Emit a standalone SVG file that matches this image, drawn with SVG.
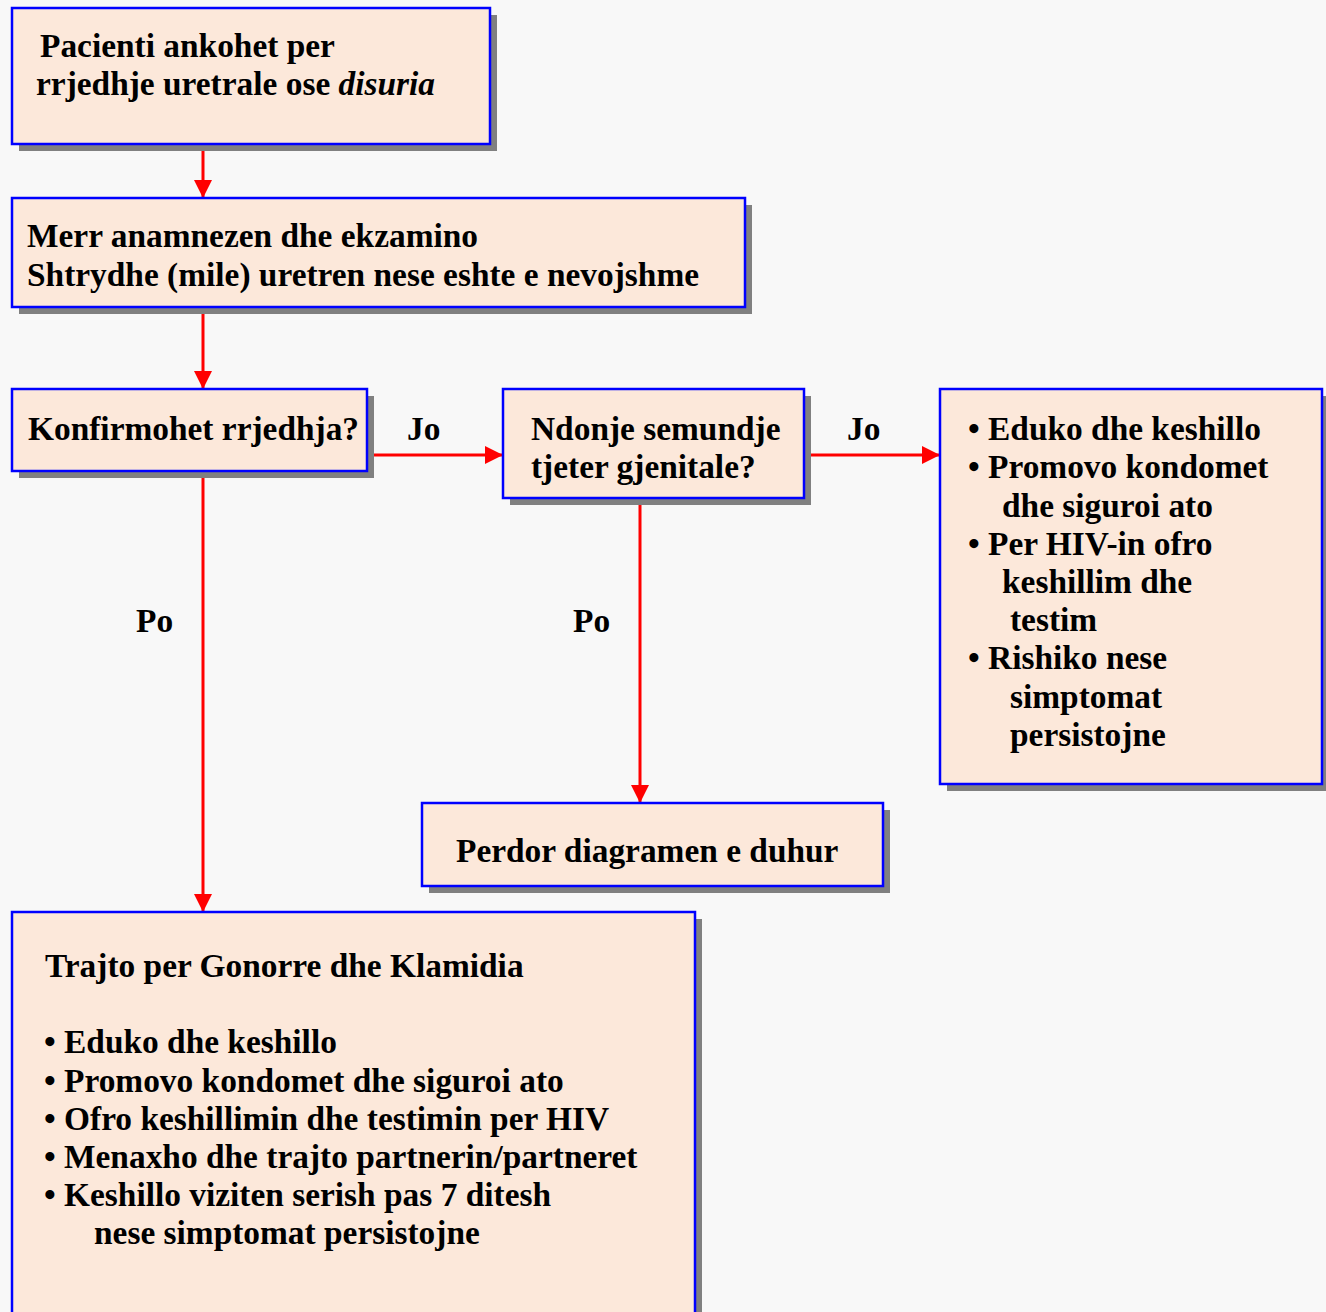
<svg xmlns="http://www.w3.org/2000/svg" width="1326" height="1312" viewBox="0 0 1326 1312">
  <defs>
    <style>
      .shadow { fill: #808080; }
      .box { fill: #FCE8DA; stroke: #0000FF; stroke-width: 2.5; }
      .t { font-family: "Liberation Serif", "Times New Roman", serif; font-weight: bold; font-size: 33.4px; fill: #000; }
      .edge { stroke: #FF0000; stroke-width: 3; fill: none; }
    </style>
    <marker id="arrow" markerUnits="userSpaceOnUse" markerWidth="20" markerHeight="20" refX="18" refY="9" orient="auto">
      <path d="M0,0 L18,9 L0,18 Z" fill="#FF0000"/>
    </marker>
  </defs>

  <rect width="1326" height="1312" fill="#F8F8F8"/>

  <!-- connectors -->
  <g id="connectors">
    <line class="edge" x1="203" y1="145" x2="203" y2="198" marker-end="url(#arrow)"/>
    <line class="edge" x1="203" y1="308" x2="203" y2="389" marker-end="url(#arrow)"/>
    <line class="edge" x1="368" y1="455" x2="503" y2="455" marker-end="url(#arrow)"/>
    <line class="edge" x1="805" y1="455" x2="940" y2="455" marker-end="url(#arrow)"/>
    <line class="edge" x1="640" y1="499" x2="640" y2="803" marker-end="url(#arrow)"/>
    <line class="edge" x1="203" y1="472" x2="203" y2="912" marker-end="url(#arrow)"/>
    <text class="t" x="407" y="440">Jo</text>
    <text class="t" x="847" y="440">Jo</text>
    <text class="t" x="136" y="632">Po</text>
    <text class="t" x="573" y="632">Po</text>
  </g>

  <!-- start: complaint -->
  <g id="node-complaint">
    <rect class="shadow" x="19" y="15" width="478" height="136"/>
    <rect class="box" x="12" y="8" width="478" height="136"/>
    <text class="t" x="40" y="57">Pacienti ankohet per</text>
    <text class="t" x="36" y="95">rrjedhje uretrale ose <tspan font-style="italic">disuria</tspan></text>
  </g>

  <!-- history and exam -->
  <g id="node-history">
    <rect class="shadow" x="19" y="205" width="733" height="109"/>
    <rect class="box" x="12" y="198" width="733" height="109"/>
    <text class="t" x="27" y="247">Merr anamnezen dhe ekzamino</text>
    <text class="t" x="27" y="286">Shtrydhe (mile) uretren nese eshte e nevojshme</text>
  </g>

  <!-- decision: discharge confirmed -->
  <g id="node-confirmed">
    <rect class="shadow" x="19" y="396" width="355" height="82"/>
    <rect class="box" x="12" y="389" width="355" height="82"/>
    <text class="t" x="28" y="440">Konfirmohet rrjedhja?</text>
  </g>

  <!-- decision: other genital disease -->
  <g id="node-other">
    <rect class="shadow" x="510" y="396" width="301" height="109"/>
    <rect class="box" x="503" y="389" width="301" height="109"/>
    <text class="t" x="531" y="440">Ndonje semundje</text>
    <text class="t" x="531" y="478">tjeter gjenitale?</text>
  </g>

  <!-- counselling -->
  <g id="node-counsel">
    <rect class="shadow" x="947" y="396" width="382" height="395"/>
    <rect class="box" x="940" y="389" width="382" height="395"/>
    <text class="t" x="968" y="440">• Eduko dhe keshillo</text>
    <text class="t" x="968" y="478">• Promovo kondomet</text>
    <text class="t" x="1002" y="517">dhe siguroi ato</text>
    <text class="t" x="968" y="555">• Per HIV-in ofro</text>
    <text class="t" x="1002" y="593">keshillim dhe</text>
    <text class="t" x="1010" y="631">testim</text>
    <text class="t" x="968" y="669">• Rishiko nese</text>
    <text class="t" x="1010" y="708">simptomat</text>
    <text class="t" x="1010" y="746">persistojne</text>
  </g>

  <!-- other flowchart -->
  <g id="node-other-chart">
    <rect class="shadow" x="429" y="810" width="461" height="83"/>
    <rect class="box" x="422" y="803" width="461" height="83"/>
    <text class="t" x="456" y="862">Perdor diagramen e duhur</text>
  </g>

  <!-- treatment -->
  <g id="node-treat">
    <rect class="shadow" x="19" y="919" width="683" height="410"/>
    <rect class="box" x="12" y="912" width="683" height="410"/>
    <text class="t" x="45" y="977">Trajto per Gonorre dhe Klamidia</text>
    <text class="t" x="44" y="1053">• Eduko dhe keshillo</text>
    <text class="t" x="44" y="1092">• Promovo kondomet dhe siguroi ato</text>
    <text class="t" x="44" y="1130">• Ofro keshillimin dhe testimin per HIV</text>
    <text class="t" x="44" y="1168">• Menaxho dhe trajto partnerin/partneret</text>
    <text class="t" x="44" y="1206">• Keshillo viziten serish pas 7 ditesh</text>
    <text class="t" x="94" y="1244">nese simptomat persistojne</text>
  </g>
</svg>
